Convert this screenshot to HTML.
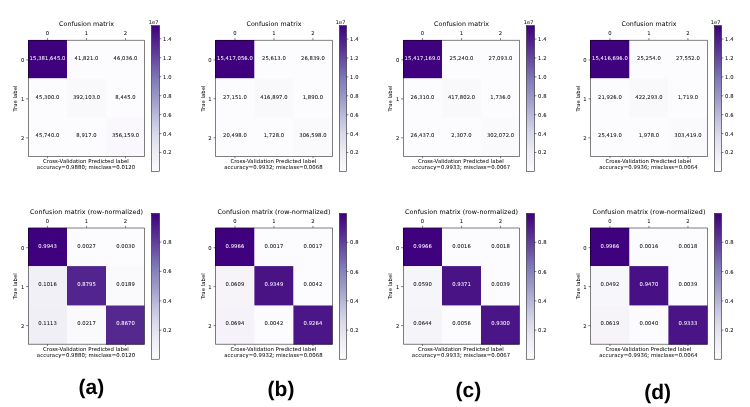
<!DOCTYPE html>
<html><head><meta charset="utf-8"><title>Confusion matrices</title>
<style>html,body{margin:0;padding:0;background:#fff}svg{display:block;will-change:transform;opacity:.999}text{text-rendering:geometricPrecision;stroke:#000;stroke-width:2px;font-family:"DejaVu Sans","Liberation Sans",sans-serif}text.w{stroke:#fff}text.lab{stroke:none;font-family:"Liberation Sans",sans-serif;font-weight:bold}</style>
</head><body>
<svg width="750" height="407" viewBox="0 0 750 407">
<defs><linearGradient id="pg" x1="0" y1="1" x2="0" y2="0">
<stop offset="0.0000" stop-color="#fcfbfd"/>
<stop offset="0.1250" stop-color="#efedf5"/>
<stop offset="0.2500" stop-color="#dadaeb"/>
<stop offset="0.3750" stop-color="#bcbddc"/>
<stop offset="0.5000" stop-color="#9e9ac8"/>
<stop offset="0.6250" stop-color="#807dba"/>
<stop offset="0.7500" stop-color="#6a51a3"/>
<stop offset="0.8750" stop-color="#54278f"/>
<stop offset="1.0000" stop-color="#3f007d"/>
</linearGradient></defs>
<rect width="750" height="407" fill="#fff"/>
<rect x="28.00" y="40.00" width="39.29" height="38.60" fill="#3f007d"/>
<rect x="66.99" y="40.00" width="39.30" height="38.60" fill="#fcfbfd"/>
<rect x="105.99" y="40.00" width="38.51" height="38.60" fill="#fcfbfd"/>
<rect x="28.00" y="78.30" width="39.29" height="39.70" fill="#fcfbfd"/>
<rect x="66.99" y="78.30" width="39.30" height="39.70" fill="#f9f8fb"/>
<rect x="105.99" y="78.30" width="38.51" height="39.70" fill="#fcfbfd"/>
<rect x="28.00" y="117.70" width="39.29" height="39.10" fill="#fcfbfd"/>
<rect x="66.99" y="117.70" width="39.30" height="39.10" fill="#fcfbfd"/>
<rect x="105.99" y="117.70" width="38.51" height="39.10" fill="#faf8fc"/>
<path d="M28.50 40.35H144.50V156.50H28.50Z" fill="none" stroke="#000" stroke-width="0.5"/>
<line x1="47.54" y1="156.50" x2="47.54" y2="158.20" stroke="#000" stroke-width="0.5"/>
<line x1="125.54" y1="156.50" x2="125.54" y2="158.20" stroke="#000" stroke-width="0.5"/>
<text transform="translate(47.54,59.90) scale(.01)" font-size="537" text-anchor="middle" fill="#fff" class="w">15,381,645.0</text>
<text transform="translate(86.54,59.90) scale(.01)" font-size="537" text-anchor="middle" fill="#000">41,821.0</text>
<text transform="translate(125.54,59.90) scale(.01)" font-size="537" text-anchor="middle" fill="#000">46,036.0</text>
<text transform="translate(47.54,98.60) scale(.01)" font-size="537" text-anchor="middle" fill="#000">45,300.0</text>
<text transform="translate(86.54,98.60) scale(.01)" font-size="537" text-anchor="middle" fill="#000">392,103.0</text>
<text transform="translate(125.54,98.60) scale(.01)" font-size="537" text-anchor="middle" fill="#000">8,445.0</text>
<text transform="translate(47.54,137.40) scale(.01)" font-size="537" text-anchor="middle" fill="#000">45,740.0</text>
<text transform="translate(86.54,137.40) scale(.01)" font-size="537" text-anchor="middle" fill="#000">8,917.0</text>
<text transform="translate(125.54,137.40) scale(.01)" font-size="537" text-anchor="middle" fill="#000">356,159.0</text>
<line x1="47.54" y1="38.10" x2="47.54" y2="40.00" stroke="#000" stroke-width="0.5"/>
<line x1="26.14" y1="59.90" x2="28.04" y2="59.90" stroke="#000" stroke-width="0.5"/>
<text transform="translate(47.54,34.80) scale(.01)" font-size="537" text-anchor="middle" fill="#000">0</text>
<text transform="translate(24.34,61.85) scale(.01)" font-size="537" text-anchor="end" fill="#000">0</text>
<line x1="86.54" y1="38.10" x2="86.54" y2="40.00" stroke="#000" stroke-width="0.5"/>
<line x1="26.14" y1="98.80" x2="28.04" y2="98.80" stroke="#000" stroke-width="0.5"/>
<text transform="translate(86.54,34.80) scale(.01)" font-size="537" text-anchor="middle" fill="#000">1</text>
<text transform="translate(24.34,100.75) scale(.01)" font-size="537" text-anchor="end" fill="#000">1</text>
<line x1="125.54" y1="38.10" x2="125.54" y2="40.00" stroke="#000" stroke-width="0.5"/>
<line x1="26.14" y1="137.80" x2="28.04" y2="137.80" stroke="#000" stroke-width="0.5"/>
<text transform="translate(125.54,34.80) scale(.01)" font-size="537" text-anchor="middle" fill="#000">2</text>
<text transform="translate(24.34,139.75) scale(.01)" font-size="537" text-anchor="end" fill="#000">2</text>
<text transform="translate(86.54,25.80) scale(.01)" font-size="644" text-anchor="middle" fill="#000">Confusion matrix</text>
<text transform="translate(17.14,98.50) rotate(-90) scale(.01)" font-size="537" text-anchor="middle" fill="#000">True label</text>
<text transform="translate(85.94,163.00) scale(.01)" font-size="546" text-anchor="middle" fill="#000">Cross-Validation Predicted label</text>
<text transform="translate(86.04,169.00) scale(.01)" font-size="544" text-anchor="middle" fill="#000">accuracy=0.9880; misclass=0.0120</text>
<rect x="151.50" y="25.70" width="8.0" height="145.70" fill="url(#pg)" stroke="#000" stroke-width="0.5"/>
<line x1="159.50" y1="152.52" x2="161.40" y2="152.52" stroke="#000" stroke-width="0.5"/>
<text transform="translate(163.10,154.47) scale(.01)" font-size="537" fill="#000">0.2</text>
<line x1="159.50" y1="133.57" x2="161.40" y2="133.57" stroke="#000" stroke-width="0.5"/>
<text transform="translate(163.10,135.52) scale(.01)" font-size="537" fill="#000">0.4</text>
<line x1="159.50" y1="114.61" x2="161.40" y2="114.61" stroke="#000" stroke-width="0.5"/>
<text transform="translate(163.10,116.56) scale(.01)" font-size="537" fill="#000">0.6</text>
<line x1="159.50" y1="95.66" x2="161.40" y2="95.66" stroke="#000" stroke-width="0.5"/>
<text transform="translate(163.10,97.61) scale(.01)" font-size="537" fill="#000">0.8</text>
<line x1="159.50" y1="76.70" x2="161.40" y2="76.70" stroke="#000" stroke-width="0.5"/>
<text transform="translate(163.10,78.65) scale(.01)" font-size="537" fill="#000">1.0</text>
<line x1="159.50" y1="57.75" x2="161.40" y2="57.75" stroke="#000" stroke-width="0.5"/>
<text transform="translate(163.10,59.70) scale(.01)" font-size="537" fill="#000">1.2</text>
<line x1="159.50" y1="38.79" x2="161.40" y2="38.79" stroke="#000" stroke-width="0.5"/>
<text transform="translate(163.10,40.74) scale(.01)" font-size="537" fill="#000">1.4</text>
<text transform="translate(158.50,24.20) scale(.01)" font-size="510" text-anchor="end" fill="#000">1e7</text>
<rect x="215.00" y="40.00" width="39.69" height="38.60" fill="#3f007d"/>
<rect x="254.39" y="40.00" width="39.30" height="38.60" fill="#fcfbfd"/>
<rect x="293.39" y="40.00" width="39.11" height="38.60" fill="#fcfbfd"/>
<rect x="215.00" y="78.30" width="39.69" height="39.70" fill="#fcfbfd"/>
<rect x="254.39" y="78.30" width="39.30" height="39.70" fill="#f9f8fb"/>
<rect x="293.39" y="78.30" width="39.11" height="39.70" fill="#fcfbfd"/>
<rect x="215.00" y="117.70" width="39.69" height="39.10" fill="#fcfbfd"/>
<rect x="254.39" y="117.70" width="39.30" height="39.10" fill="#fcfbfd"/>
<rect x="293.39" y="117.70" width="39.11" height="39.10" fill="#faf9fc"/>
<path d="M215.50 40.35H332.50V156.50H215.50Z" fill="none" stroke="#000" stroke-width="0.5"/>
<line x1="234.94" y1="156.50" x2="234.94" y2="158.20" stroke="#000" stroke-width="0.5"/>
<line x1="312.94" y1="156.50" x2="312.94" y2="158.20" stroke="#000" stroke-width="0.5"/>
<text transform="translate(234.94,59.90) scale(.01)" font-size="537" text-anchor="middle" fill="#fff" class="w">15,417,056.0</text>
<text transform="translate(273.94,59.90) scale(.01)" font-size="537" text-anchor="middle" fill="#000">25,613.0</text>
<text transform="translate(312.94,59.90) scale(.01)" font-size="537" text-anchor="middle" fill="#000">26,839.0</text>
<text transform="translate(234.94,98.60) scale(.01)" font-size="537" text-anchor="middle" fill="#000">27,151.0</text>
<text transform="translate(273.94,98.60) scale(.01)" font-size="537" text-anchor="middle" fill="#000">416,897.0</text>
<text transform="translate(312.94,98.60) scale(.01)" font-size="537" text-anchor="middle" fill="#000">1,890.0</text>
<text transform="translate(234.94,137.40) scale(.01)" font-size="537" text-anchor="middle" fill="#000">20,498.0</text>
<text transform="translate(273.94,137.40) scale(.01)" font-size="537" text-anchor="middle" fill="#000">1,728.0</text>
<text transform="translate(312.94,137.40) scale(.01)" font-size="537" text-anchor="middle" fill="#000">306,598.0</text>
<line x1="234.94" y1="38.10" x2="234.94" y2="40.00" stroke="#000" stroke-width="0.5"/>
<line x1="213.54" y1="59.90" x2="215.44" y2="59.90" stroke="#000" stroke-width="0.5"/>
<text transform="translate(234.94,34.80) scale(.01)" font-size="537" text-anchor="middle" fill="#000">0</text>
<text transform="translate(211.74,61.85) scale(.01)" font-size="537" text-anchor="end" fill="#000">0</text>
<line x1="273.94" y1="38.10" x2="273.94" y2="40.00" stroke="#000" stroke-width="0.5"/>
<line x1="213.54" y1="98.80" x2="215.44" y2="98.80" stroke="#000" stroke-width="0.5"/>
<text transform="translate(273.94,34.80) scale(.01)" font-size="537" text-anchor="middle" fill="#000">1</text>
<text transform="translate(211.74,100.75) scale(.01)" font-size="537" text-anchor="end" fill="#000">1</text>
<line x1="312.94" y1="38.10" x2="312.94" y2="40.00" stroke="#000" stroke-width="0.5"/>
<line x1="213.54" y1="137.80" x2="215.44" y2="137.80" stroke="#000" stroke-width="0.5"/>
<text transform="translate(312.94,34.80) scale(.01)" font-size="537" text-anchor="middle" fill="#000">2</text>
<text transform="translate(211.74,139.75) scale(.01)" font-size="537" text-anchor="end" fill="#000">2</text>
<text transform="translate(273.94,25.80) scale(.01)" font-size="644" text-anchor="middle" fill="#000">Confusion matrix</text>
<text transform="translate(204.54,98.50) rotate(-90) scale(.01)" font-size="537" text-anchor="middle" fill="#000">True label</text>
<text transform="translate(273.34,163.00) scale(.01)" font-size="546" text-anchor="middle" fill="#000">Cross-Validation Predicted label</text>
<text transform="translate(273.44,169.00) scale(.01)" font-size="544" text-anchor="middle" fill="#000">accuracy=0.9932; misclass=0.0068</text>
<rect x="339.50" y="25.70" width="7.0" height="145.70" fill="url(#pg)" stroke="#000" stroke-width="0.5"/>
<line x1="346.50" y1="152.51" x2="348.40" y2="152.51" stroke="#000" stroke-width="0.5"/>
<text transform="translate(350.10,154.46) scale(.01)" font-size="537" fill="#000">0.2</text>
<line x1="346.50" y1="133.61" x2="348.40" y2="133.61" stroke="#000" stroke-width="0.5"/>
<text transform="translate(350.10,135.56) scale(.01)" font-size="537" fill="#000">0.4</text>
<line x1="346.50" y1="114.71" x2="348.40" y2="114.71" stroke="#000" stroke-width="0.5"/>
<text transform="translate(350.10,116.66) scale(.01)" font-size="537" fill="#000">0.6</text>
<line x1="346.50" y1="95.80" x2="348.40" y2="95.80" stroke="#000" stroke-width="0.5"/>
<text transform="translate(350.10,97.75) scale(.01)" font-size="537" fill="#000">0.8</text>
<line x1="346.50" y1="76.90" x2="348.40" y2="76.90" stroke="#000" stroke-width="0.5"/>
<text transform="translate(350.10,78.85) scale(.01)" font-size="537" fill="#000">1.0</text>
<line x1="346.50" y1="58.00" x2="348.40" y2="58.00" stroke="#000" stroke-width="0.5"/>
<text transform="translate(350.10,59.95) scale(.01)" font-size="537" fill="#000">1.2</text>
<line x1="346.50" y1="39.09" x2="348.40" y2="39.09" stroke="#000" stroke-width="0.5"/>
<text transform="translate(350.10,41.04) scale(.01)" font-size="537" fill="#000">1.4</text>
<text transform="translate(345.50,24.20) scale(.01)" font-size="510" text-anchor="end" fill="#000">1e7</text>
<rect x="403.00" y="40.00" width="39.29" height="38.60" fill="#3f007d"/>
<rect x="441.99" y="40.00" width="39.30" height="38.60" fill="#fcfbfd"/>
<rect x="480.99" y="40.00" width="38.51" height="38.60" fill="#fcfbfd"/>
<rect x="403.00" y="78.30" width="39.29" height="39.70" fill="#fcfbfd"/>
<rect x="441.99" y="78.30" width="39.30" height="39.70" fill="#f9f8fb"/>
<rect x="480.99" y="78.30" width="38.51" height="39.70" fill="#fcfbfd"/>
<rect x="403.00" y="117.70" width="39.29" height="39.10" fill="#fcfbfd"/>
<rect x="441.99" y="117.70" width="39.30" height="39.10" fill="#fcfbfd"/>
<rect x="480.99" y="117.70" width="38.51" height="39.10" fill="#faf9fc"/>
<path d="M403.50 40.35H519.50V156.50H403.50Z" fill="none" stroke="#000" stroke-width="0.5"/>
<line x1="422.54" y1="156.50" x2="422.54" y2="158.20" stroke="#000" stroke-width="0.5"/>
<line x1="500.54" y1="156.50" x2="500.54" y2="158.20" stroke="#000" stroke-width="0.5"/>
<text transform="translate(422.54,59.90) scale(.01)" font-size="537" text-anchor="middle" fill="#fff" class="w">15,417,169.0</text>
<text transform="translate(461.54,59.90) scale(.01)" font-size="537" text-anchor="middle" fill="#000">25,240.0</text>
<text transform="translate(500.54,59.90) scale(.01)" font-size="537" text-anchor="middle" fill="#000">27,093.0</text>
<text transform="translate(422.54,98.60) scale(.01)" font-size="537" text-anchor="middle" fill="#000">26,310.0</text>
<text transform="translate(461.54,98.60) scale(.01)" font-size="537" text-anchor="middle" fill="#000">417,802.0</text>
<text transform="translate(500.54,98.60) scale(.01)" font-size="537" text-anchor="middle" fill="#000">1,736.0</text>
<text transform="translate(422.54,137.40) scale(.01)" font-size="537" text-anchor="middle" fill="#000">26,437.0</text>
<text transform="translate(461.54,137.40) scale(.01)" font-size="537" text-anchor="middle" fill="#000">2,307.0</text>
<text transform="translate(500.54,137.40) scale(.01)" font-size="537" text-anchor="middle" fill="#000">302,072.0</text>
<line x1="422.54" y1="38.10" x2="422.54" y2="40.00" stroke="#000" stroke-width="0.5"/>
<line x1="401.14" y1="59.90" x2="403.04" y2="59.90" stroke="#000" stroke-width="0.5"/>
<text transform="translate(422.54,34.80) scale(.01)" font-size="537" text-anchor="middle" fill="#000">0</text>
<text transform="translate(399.34,61.85) scale(.01)" font-size="537" text-anchor="end" fill="#000">0</text>
<line x1="461.54" y1="38.10" x2="461.54" y2="40.00" stroke="#000" stroke-width="0.5"/>
<line x1="401.14" y1="98.80" x2="403.04" y2="98.80" stroke="#000" stroke-width="0.5"/>
<text transform="translate(461.54,34.80) scale(.01)" font-size="537" text-anchor="middle" fill="#000">1</text>
<text transform="translate(399.34,100.75) scale(.01)" font-size="537" text-anchor="end" fill="#000">1</text>
<line x1="500.54" y1="38.10" x2="500.54" y2="40.00" stroke="#000" stroke-width="0.5"/>
<line x1="401.14" y1="137.80" x2="403.04" y2="137.80" stroke="#000" stroke-width="0.5"/>
<text transform="translate(500.54,34.80) scale(.01)" font-size="537" text-anchor="middle" fill="#000">2</text>
<text transform="translate(399.34,139.75) scale(.01)" font-size="537" text-anchor="end" fill="#000">2</text>
<text transform="translate(461.54,25.80) scale(.01)" font-size="644" text-anchor="middle" fill="#000">Confusion matrix</text>
<text transform="translate(392.14,98.50) rotate(-90) scale(.01)" font-size="537" text-anchor="middle" fill="#000">True label</text>
<text transform="translate(460.94,163.00) scale(.01)" font-size="546" text-anchor="middle" fill="#000">Cross-Validation Predicted label</text>
<text transform="translate(461.04,169.00) scale(.01)" font-size="544" text-anchor="middle" fill="#000">accuracy=0.9933; misclass=0.0067</text>
<rect x="526.50" y="25.70" width="8.0" height="145.70" fill="url(#pg)" stroke="#000" stroke-width="0.5"/>
<line x1="534.50" y1="152.51" x2="536.40" y2="152.51" stroke="#000" stroke-width="0.5"/>
<text transform="translate(538.10,154.46) scale(.01)" font-size="537" fill="#000">0.2</text>
<line x1="534.50" y1="133.61" x2="536.40" y2="133.61" stroke="#000" stroke-width="0.5"/>
<text transform="translate(538.10,135.56) scale(.01)" font-size="537" fill="#000">0.4</text>
<line x1="534.50" y1="114.71" x2="536.40" y2="114.71" stroke="#000" stroke-width="0.5"/>
<text transform="translate(538.10,116.66) scale(.01)" font-size="537" fill="#000">0.6</text>
<line x1="534.50" y1="95.80" x2="536.40" y2="95.80" stroke="#000" stroke-width="0.5"/>
<text transform="translate(538.10,97.75) scale(.01)" font-size="537" fill="#000">0.8</text>
<line x1="534.50" y1="76.90" x2="536.40" y2="76.90" stroke="#000" stroke-width="0.5"/>
<text transform="translate(538.10,78.85) scale(.01)" font-size="537" fill="#000">1.0</text>
<line x1="534.50" y1="58.00" x2="536.40" y2="58.00" stroke="#000" stroke-width="0.5"/>
<text transform="translate(538.10,59.95) scale(.01)" font-size="537" fill="#000">1.2</text>
<line x1="534.50" y1="39.09" x2="536.40" y2="39.09" stroke="#000" stroke-width="0.5"/>
<text transform="translate(538.10,41.04) scale(.01)" font-size="537" fill="#000">1.4</text>
<text transform="translate(533.50,24.20) scale(.01)" font-size="510" text-anchor="end" fill="#000">1e7</text>
<rect x="590.00" y="40.00" width="39.69" height="38.60" fill="#3f007d"/>
<rect x="629.39" y="40.00" width="39.30" height="38.60" fill="#fcfbfd"/>
<rect x="668.39" y="40.00" width="39.11" height="38.60" fill="#fcfbfd"/>
<rect x="590.00" y="78.30" width="39.69" height="39.70" fill="#fcfbfd"/>
<rect x="629.39" y="78.30" width="39.30" height="39.70" fill="#f9f8fb"/>
<rect x="668.39" y="78.30" width="39.11" height="39.70" fill="#fcfbfd"/>
<rect x="590.00" y="117.70" width="39.69" height="39.10" fill="#fcfbfd"/>
<rect x="629.39" y="117.70" width="39.30" height="39.10" fill="#fcfbfd"/>
<rect x="668.39" y="117.70" width="39.11" height="39.10" fill="#faf9fc"/>
<path d="M590.50 40.35H707.50V156.50H590.50Z" fill="none" stroke="#000" stroke-width="0.5"/>
<line x1="609.94" y1="156.50" x2="609.94" y2="158.20" stroke="#000" stroke-width="0.5"/>
<line x1="687.94" y1="156.50" x2="687.94" y2="158.20" stroke="#000" stroke-width="0.5"/>
<text transform="translate(609.94,59.90) scale(.01)" font-size="537" text-anchor="middle" fill="#fff" class="w">15,416,696.0</text>
<text transform="translate(648.94,59.90) scale(.01)" font-size="537" text-anchor="middle" fill="#000">25,254.0</text>
<text transform="translate(687.94,59.90) scale(.01)" font-size="537" text-anchor="middle" fill="#000">27,552.0</text>
<text transform="translate(609.94,98.60) scale(.01)" font-size="537" text-anchor="middle" fill="#000">21,926.0</text>
<text transform="translate(648.94,98.60) scale(.01)" font-size="537" text-anchor="middle" fill="#000">422,293.0</text>
<text transform="translate(687.94,98.60) scale(.01)" font-size="537" text-anchor="middle" fill="#000">1,719.0</text>
<text transform="translate(609.94,137.40) scale(.01)" font-size="537" text-anchor="middle" fill="#000">25,419.0</text>
<text transform="translate(648.94,137.40) scale(.01)" font-size="537" text-anchor="middle" fill="#000">1,978.0</text>
<text transform="translate(687.94,137.40) scale(.01)" font-size="537" text-anchor="middle" fill="#000">303,419.0</text>
<line x1="609.94" y1="38.10" x2="609.94" y2="40.00" stroke="#000" stroke-width="0.5"/>
<line x1="588.54" y1="59.90" x2="590.44" y2="59.90" stroke="#000" stroke-width="0.5"/>
<text transform="translate(609.94,34.80) scale(.01)" font-size="537" text-anchor="middle" fill="#000">0</text>
<text transform="translate(586.74,61.85) scale(.01)" font-size="537" text-anchor="end" fill="#000">0</text>
<line x1="648.94" y1="38.10" x2="648.94" y2="40.00" stroke="#000" stroke-width="0.5"/>
<line x1="588.54" y1="98.80" x2="590.44" y2="98.80" stroke="#000" stroke-width="0.5"/>
<text transform="translate(648.94,34.80) scale(.01)" font-size="537" text-anchor="middle" fill="#000">1</text>
<text transform="translate(586.74,100.75) scale(.01)" font-size="537" text-anchor="end" fill="#000">1</text>
<line x1="687.94" y1="38.10" x2="687.94" y2="40.00" stroke="#000" stroke-width="0.5"/>
<line x1="588.54" y1="137.80" x2="590.44" y2="137.80" stroke="#000" stroke-width="0.5"/>
<text transform="translate(687.94,34.80) scale(.01)" font-size="537" text-anchor="middle" fill="#000">2</text>
<text transform="translate(586.74,139.75) scale(.01)" font-size="537" text-anchor="end" fill="#000">2</text>
<text transform="translate(648.94,25.80) scale(.01)" font-size="644" text-anchor="middle" fill="#000">Confusion matrix</text>
<text transform="translate(579.54,98.50) rotate(-90) scale(.01)" font-size="537" text-anchor="middle" fill="#000">True label</text>
<text transform="translate(648.34,163.00) scale(.01)" font-size="546" text-anchor="middle" fill="#000">Cross-Validation Predicted label</text>
<text transform="translate(648.44,169.00) scale(.01)" font-size="544" text-anchor="middle" fill="#000">accuracy=0.9936; misclass=0.0064</text>
<rect x="714.50" y="25.70" width="7.0" height="145.70" fill="url(#pg)" stroke="#000" stroke-width="0.5"/>
<line x1="721.50" y1="152.51" x2="723.40" y2="152.51" stroke="#000" stroke-width="0.5"/>
<text transform="translate(725.10,154.46) scale(.01)" font-size="537" fill="#000">0.2</text>
<line x1="721.50" y1="133.61" x2="723.40" y2="133.61" stroke="#000" stroke-width="0.5"/>
<text transform="translate(725.10,135.56) scale(.01)" font-size="537" fill="#000">0.4</text>
<line x1="721.50" y1="114.71" x2="723.40" y2="114.71" stroke="#000" stroke-width="0.5"/>
<text transform="translate(725.10,116.66) scale(.01)" font-size="537" fill="#000">0.6</text>
<line x1="721.50" y1="95.80" x2="723.40" y2="95.80" stroke="#000" stroke-width="0.5"/>
<text transform="translate(725.10,97.75) scale(.01)" font-size="537" fill="#000">0.8</text>
<line x1="721.50" y1="76.90" x2="723.40" y2="76.90" stroke="#000" stroke-width="0.5"/>
<text transform="translate(725.10,78.85) scale(.01)" font-size="537" fill="#000">1.0</text>
<line x1="721.50" y1="57.99" x2="723.40" y2="57.99" stroke="#000" stroke-width="0.5"/>
<text transform="translate(725.10,59.94) scale(.01)" font-size="537" fill="#000">1.2</text>
<line x1="721.50" y1="39.09" x2="723.40" y2="39.09" stroke="#000" stroke-width="0.5"/>
<text transform="translate(725.10,41.04) scale(.01)" font-size="537" fill="#000">1.4</text>
<text transform="translate(720.50,24.20) scale(.01)" font-size="510" text-anchor="end" fill="#000">1e7</text>
<rect x="28.00" y="227.80" width="39.29" height="38.60" fill="#3f007d"/>
<rect x="66.99" y="227.80" width="39.30" height="38.60" fill="#fcfbfd"/>
<rect x="105.99" y="227.80" width="38.51" height="38.60" fill="#fcfbfd"/>
<rect x="28.00" y="266.10" width="39.29" height="39.70" fill="#f2f0f7"/>
<rect x="66.99" y="266.10" width="39.30" height="39.70" fill="#52248e"/>
<rect x="105.99" y="266.10" width="38.51" height="39.70" fill="#faf9fc"/>
<rect x="28.00" y="305.50" width="39.29" height="39.10" fill="#f1eff6"/>
<rect x="66.99" y="305.50" width="39.30" height="39.10" fill="#faf9fc"/>
<rect x="105.99" y="305.50" width="38.51" height="39.10" fill="#552890"/>
<path d="M28.50 228.00H144.50V344.30H28.50Z" fill="none" stroke="#000" stroke-width="0.5"/>
<line x1="47.54" y1="344.30" x2="47.54" y2="346.00" stroke="#000" stroke-width="0.5"/>
<line x1="125.54" y1="344.30" x2="125.54" y2="346.00" stroke="#000" stroke-width="0.5"/>
<text transform="translate(47.54,247.70) scale(.01)" font-size="537" text-anchor="middle" fill="#fff" class="w">0.9943</text>
<text transform="translate(86.54,247.70) scale(.01)" font-size="537" text-anchor="middle" fill="#000">0.0027</text>
<text transform="translate(125.54,247.70) scale(.01)" font-size="537" text-anchor="middle" fill="#000">0.0030</text>
<text transform="translate(47.54,286.40) scale(.01)" font-size="537" text-anchor="middle" fill="#000">0.1016</text>
<text transform="translate(86.54,286.40) scale(.01)" font-size="537" text-anchor="middle" fill="#fff" class="w">0.8795</text>
<text transform="translate(125.54,286.40) scale(.01)" font-size="537" text-anchor="middle" fill="#000">0.0189</text>
<text transform="translate(47.54,325.20) scale(.01)" font-size="537" text-anchor="middle" fill="#000">0.1113</text>
<text transform="translate(86.54,325.20) scale(.01)" font-size="537" text-anchor="middle" fill="#000">0.0217</text>
<text transform="translate(125.54,325.20) scale(.01)" font-size="537" text-anchor="middle" fill="#fff" class="w">0.8670</text>
<line x1="47.54" y1="225.90" x2="47.54" y2="227.80" stroke="#000" stroke-width="0.5"/>
<line x1="26.14" y1="247.70" x2="28.04" y2="247.70" stroke="#000" stroke-width="0.5"/>
<text transform="translate(47.54,222.60) scale(.01)" font-size="537" text-anchor="middle" fill="#000">0</text>
<text transform="translate(24.34,249.65) scale(.01)" font-size="537" text-anchor="end" fill="#000">0</text>
<line x1="86.54" y1="225.90" x2="86.54" y2="227.80" stroke="#000" stroke-width="0.5"/>
<line x1="26.14" y1="286.60" x2="28.04" y2="286.60" stroke="#000" stroke-width="0.5"/>
<text transform="translate(86.54,222.60) scale(.01)" font-size="537" text-anchor="middle" fill="#000">1</text>
<text transform="translate(24.34,288.55) scale(.01)" font-size="537" text-anchor="end" fill="#000">1</text>
<line x1="125.54" y1="225.90" x2="125.54" y2="227.80" stroke="#000" stroke-width="0.5"/>
<line x1="26.14" y1="325.60" x2="28.04" y2="325.60" stroke="#000" stroke-width="0.5"/>
<text transform="translate(125.54,222.60) scale(.01)" font-size="537" text-anchor="middle" fill="#000">2</text>
<text transform="translate(24.34,327.55) scale(.01)" font-size="537" text-anchor="end" fill="#000">2</text>
<text transform="translate(86.54,213.60) scale(.01)" font-size="650" text-anchor="middle" fill="#000">Confusion matrix (row-normalized)</text>
<text transform="translate(17.14,286.30) rotate(-90) scale(.01)" font-size="537" text-anchor="middle" fill="#000">True label</text>
<text transform="translate(85.94,350.80) scale(.01)" font-size="546" text-anchor="middle" fill="#000">Cross-Validation Predicted label</text>
<text transform="translate(86.04,356.80) scale(.01)" font-size="544" text-anchor="middle" fill="#000">accuracy=0.9880; misclass=0.0120</text>
<rect x="151.50" y="213.50" width="8.0" height="145.70" fill="url(#pg)" stroke="#000" stroke-width="0.5"/>
<line x1="159.50" y1="330.21" x2="161.40" y2="330.21" stroke="#000" stroke-width="0.5"/>
<text transform="translate(163.10,332.16) scale(.01)" font-size="537" fill="#000">0.2</text>
<line x1="159.50" y1="300.82" x2="161.40" y2="300.82" stroke="#000" stroke-width="0.5"/>
<text transform="translate(163.10,302.77) scale(.01)" font-size="537" fill="#000">0.4</text>
<line x1="159.50" y1="271.44" x2="161.40" y2="271.44" stroke="#000" stroke-width="0.5"/>
<text transform="translate(163.10,273.39) scale(.01)" font-size="537" fill="#000">0.6</text>
<line x1="159.50" y1="242.05" x2="161.40" y2="242.05" stroke="#000" stroke-width="0.5"/>
<text transform="translate(163.10,244.00) scale(.01)" font-size="537" fill="#000">0.8</text>
<rect x="215.00" y="227.80" width="39.69" height="38.60" fill="#3f007d"/>
<rect x="254.39" y="227.80" width="39.30" height="38.60" fill="#fcfbfd"/>
<rect x="293.39" y="227.80" width="39.11" height="38.60" fill="#fcfbfd"/>
<rect x="215.00" y="266.10" width="39.69" height="39.70" fill="#f6f4f9"/>
<rect x="254.39" y="266.10" width="39.30" height="39.70" fill="#491386"/>
<rect x="293.39" y="266.10" width="39.11" height="39.70" fill="#fcfbfd"/>
<rect x="215.00" y="305.50" width="39.69" height="39.10" fill="#f5f3f9"/>
<rect x="254.39" y="305.50" width="39.30" height="39.10" fill="#fcfbfd"/>
<rect x="293.39" y="305.50" width="39.11" height="39.10" fill="#4b1687"/>
<path d="M215.50 228.00H332.50V344.30H215.50Z" fill="none" stroke="#000" stroke-width="0.5"/>
<line x1="234.94" y1="344.30" x2="234.94" y2="346.00" stroke="#000" stroke-width="0.5"/>
<line x1="312.94" y1="344.30" x2="312.94" y2="346.00" stroke="#000" stroke-width="0.5"/>
<text transform="translate(234.94,247.70) scale(.01)" font-size="537" text-anchor="middle" fill="#fff" class="w">0.9966</text>
<text transform="translate(273.94,247.70) scale(.01)" font-size="537" text-anchor="middle" fill="#000">0.0017</text>
<text transform="translate(312.94,247.70) scale(.01)" font-size="537" text-anchor="middle" fill="#000">0.0017</text>
<text transform="translate(234.94,286.40) scale(.01)" font-size="537" text-anchor="middle" fill="#000">0.0609</text>
<text transform="translate(273.94,286.40) scale(.01)" font-size="537" text-anchor="middle" fill="#fff" class="w">0.9349</text>
<text transform="translate(312.94,286.40) scale(.01)" font-size="537" text-anchor="middle" fill="#000">0.0042</text>
<text transform="translate(234.94,325.20) scale(.01)" font-size="537" text-anchor="middle" fill="#000">0.0694</text>
<text transform="translate(273.94,325.20) scale(.01)" font-size="537" text-anchor="middle" fill="#000">0.0042</text>
<text transform="translate(312.94,325.20) scale(.01)" font-size="537" text-anchor="middle" fill="#fff" class="w">0.9264</text>
<line x1="234.94" y1="225.90" x2="234.94" y2="227.80" stroke="#000" stroke-width="0.5"/>
<line x1="213.54" y1="247.70" x2="215.44" y2="247.70" stroke="#000" stroke-width="0.5"/>
<text transform="translate(234.94,222.60) scale(.01)" font-size="537" text-anchor="middle" fill="#000">0</text>
<text transform="translate(211.74,249.65) scale(.01)" font-size="537" text-anchor="end" fill="#000">0</text>
<line x1="273.94" y1="225.90" x2="273.94" y2="227.80" stroke="#000" stroke-width="0.5"/>
<line x1="213.54" y1="286.60" x2="215.44" y2="286.60" stroke="#000" stroke-width="0.5"/>
<text transform="translate(273.94,222.60) scale(.01)" font-size="537" text-anchor="middle" fill="#000">1</text>
<text transform="translate(211.74,288.55) scale(.01)" font-size="537" text-anchor="end" fill="#000">1</text>
<line x1="312.94" y1="225.90" x2="312.94" y2="227.80" stroke="#000" stroke-width="0.5"/>
<line x1="213.54" y1="325.60" x2="215.44" y2="325.60" stroke="#000" stroke-width="0.5"/>
<text transform="translate(312.94,222.60) scale(.01)" font-size="537" text-anchor="middle" fill="#000">2</text>
<text transform="translate(211.74,327.55) scale(.01)" font-size="537" text-anchor="end" fill="#000">2</text>
<text transform="translate(273.94,213.60) scale(.01)" font-size="650" text-anchor="middle" fill="#000">Confusion matrix (row-normalized)</text>
<text transform="translate(204.54,286.30) rotate(-90) scale(.01)" font-size="537" text-anchor="middle" fill="#000">True label</text>
<text transform="translate(273.34,350.80) scale(.01)" font-size="546" text-anchor="middle" fill="#000">Cross-Validation Predicted label</text>
<text transform="translate(273.44,356.80) scale(.01)" font-size="544" text-anchor="middle" fill="#000">accuracy=0.9932; misclass=0.0068</text>
<rect x="339.50" y="213.50" width="7.0" height="145.70" fill="url(#pg)" stroke="#000" stroke-width="0.5"/>
<line x1="346.50" y1="330.16" x2="348.40" y2="330.16" stroke="#000" stroke-width="0.5"/>
<text transform="translate(350.10,332.11) scale(.01)" font-size="537" fill="#000">0.2</text>
<line x1="346.50" y1="300.87" x2="348.40" y2="300.87" stroke="#000" stroke-width="0.5"/>
<text transform="translate(350.10,302.82) scale(.01)" font-size="537" fill="#000">0.4</text>
<line x1="346.50" y1="271.58" x2="348.40" y2="271.58" stroke="#000" stroke-width="0.5"/>
<text transform="translate(350.10,273.53) scale(.01)" font-size="537" fill="#000">0.6</text>
<line x1="346.50" y1="242.29" x2="348.40" y2="242.29" stroke="#000" stroke-width="0.5"/>
<text transform="translate(350.10,244.24) scale(.01)" font-size="537" fill="#000">0.8</text>
<rect x="403.00" y="227.80" width="39.29" height="38.60" fill="#3f007d"/>
<rect x="441.99" y="227.80" width="39.30" height="38.60" fill="#fcfbfd"/>
<rect x="480.99" y="227.80" width="38.51" height="38.60" fill="#fcfbfd"/>
<rect x="403.00" y="266.10" width="39.29" height="39.70" fill="#f6f5f9"/>
<rect x="441.99" y="266.10" width="39.30" height="39.70" fill="#491386"/>
<rect x="480.99" y="266.10" width="38.51" height="39.70" fill="#fcfbfd"/>
<rect x="403.00" y="305.50" width="39.29" height="39.10" fill="#f5f4f9"/>
<rect x="441.99" y="305.50" width="39.30" height="39.10" fill="#fcfbfd"/>
<rect x="480.99" y="305.50" width="38.51" height="39.10" fill="#4a1587"/>
<path d="M403.50 228.00H519.50V344.30H403.50Z" fill="none" stroke="#000" stroke-width="0.5"/>
<line x1="422.54" y1="344.30" x2="422.54" y2="346.00" stroke="#000" stroke-width="0.5"/>
<line x1="500.54" y1="344.30" x2="500.54" y2="346.00" stroke="#000" stroke-width="0.5"/>
<text transform="translate(422.54,247.70) scale(.01)" font-size="537" text-anchor="middle" fill="#fff" class="w">0.9966</text>
<text transform="translate(461.54,247.70) scale(.01)" font-size="537" text-anchor="middle" fill="#000">0.0016</text>
<text transform="translate(500.54,247.70) scale(.01)" font-size="537" text-anchor="middle" fill="#000">0.0018</text>
<text transform="translate(422.54,286.40) scale(.01)" font-size="537" text-anchor="middle" fill="#000">0.0590</text>
<text transform="translate(461.54,286.40) scale(.01)" font-size="537" text-anchor="middle" fill="#fff" class="w">0.9371</text>
<text transform="translate(500.54,286.40) scale(.01)" font-size="537" text-anchor="middle" fill="#000">0.0039</text>
<text transform="translate(422.54,325.20) scale(.01)" font-size="537" text-anchor="middle" fill="#000">0.0644</text>
<text transform="translate(461.54,325.20) scale(.01)" font-size="537" text-anchor="middle" fill="#000">0.0056</text>
<text transform="translate(500.54,325.20) scale(.01)" font-size="537" text-anchor="middle" fill="#fff" class="w">0.9300</text>
<line x1="422.54" y1="225.90" x2="422.54" y2="227.80" stroke="#000" stroke-width="0.5"/>
<line x1="401.14" y1="247.70" x2="403.04" y2="247.70" stroke="#000" stroke-width="0.5"/>
<text transform="translate(422.54,222.60) scale(.01)" font-size="537" text-anchor="middle" fill="#000">0</text>
<text transform="translate(399.34,249.65) scale(.01)" font-size="537" text-anchor="end" fill="#000">0</text>
<line x1="461.54" y1="225.90" x2="461.54" y2="227.80" stroke="#000" stroke-width="0.5"/>
<line x1="401.14" y1="286.60" x2="403.04" y2="286.60" stroke="#000" stroke-width="0.5"/>
<text transform="translate(461.54,222.60) scale(.01)" font-size="537" text-anchor="middle" fill="#000">1</text>
<text transform="translate(399.34,288.55) scale(.01)" font-size="537" text-anchor="end" fill="#000">1</text>
<line x1="500.54" y1="225.90" x2="500.54" y2="227.80" stroke="#000" stroke-width="0.5"/>
<line x1="401.14" y1="325.60" x2="403.04" y2="325.60" stroke="#000" stroke-width="0.5"/>
<text transform="translate(500.54,222.60) scale(.01)" font-size="537" text-anchor="middle" fill="#000">2</text>
<text transform="translate(399.34,327.55) scale(.01)" font-size="537" text-anchor="end" fill="#000">2</text>
<text transform="translate(461.54,213.60) scale(.01)" font-size="650" text-anchor="middle" fill="#000">Confusion matrix (row-normalized)</text>
<text transform="translate(392.14,286.30) rotate(-90) scale(.01)" font-size="537" text-anchor="middle" fill="#000">True label</text>
<text transform="translate(460.94,350.80) scale(.01)" font-size="546" text-anchor="middle" fill="#000">Cross-Validation Predicted label</text>
<text transform="translate(461.04,356.80) scale(.01)" font-size="544" text-anchor="middle" fill="#000">accuracy=0.9933; misclass=0.0067</text>
<rect x="526.50" y="213.50" width="8.0" height="145.70" fill="url(#pg)" stroke="#000" stroke-width="0.5"/>
<line x1="534.50" y1="330.15" x2="536.40" y2="330.15" stroke="#000" stroke-width="0.5"/>
<text transform="translate(538.10,332.10) scale(.01)" font-size="537" fill="#000">0.2</text>
<line x1="534.50" y1="300.86" x2="536.40" y2="300.86" stroke="#000" stroke-width="0.5"/>
<text transform="translate(538.10,302.81) scale(.01)" font-size="537" fill="#000">0.4</text>
<line x1="534.50" y1="271.57" x2="536.40" y2="271.57" stroke="#000" stroke-width="0.5"/>
<text transform="translate(538.10,273.52) scale(.01)" font-size="537" fill="#000">0.6</text>
<line x1="534.50" y1="242.29" x2="536.40" y2="242.29" stroke="#000" stroke-width="0.5"/>
<text transform="translate(538.10,244.24) scale(.01)" font-size="537" fill="#000">0.8</text>
<rect x="590.00" y="227.80" width="39.69" height="38.60" fill="#3f007d"/>
<rect x="629.39" y="227.80" width="39.30" height="38.60" fill="#fcfbfd"/>
<rect x="668.39" y="227.80" width="39.11" height="38.60" fill="#fcfbfd"/>
<rect x="590.00" y="266.10" width="39.69" height="39.70" fill="#f7f6fa"/>
<rect x="629.39" y="266.10" width="39.30" height="39.70" fill="#471084"/>
<rect x="668.39" y="266.10" width="39.11" height="39.70" fill="#fcfbfd"/>
<rect x="590.00" y="305.50" width="39.69" height="39.10" fill="#f6f4f9"/>
<rect x="629.39" y="305.50" width="39.30" height="39.10" fill="#fcfbfd"/>
<rect x="668.39" y="305.50" width="39.11" height="39.10" fill="#4a1486"/>
<path d="M590.50 228.00H707.50V344.30H590.50Z" fill="none" stroke="#000" stroke-width="0.5"/>
<line x1="609.94" y1="344.30" x2="609.94" y2="346.00" stroke="#000" stroke-width="0.5"/>
<line x1="687.94" y1="344.30" x2="687.94" y2="346.00" stroke="#000" stroke-width="0.5"/>
<text transform="translate(609.94,247.70) scale(.01)" font-size="537" text-anchor="middle" fill="#fff" class="w">0.9966</text>
<text transform="translate(648.94,247.70) scale(.01)" font-size="537" text-anchor="middle" fill="#000">0.0016</text>
<text transform="translate(687.94,247.70) scale(.01)" font-size="537" text-anchor="middle" fill="#000">0.0018</text>
<text transform="translate(609.94,286.40) scale(.01)" font-size="537" text-anchor="middle" fill="#000">0.0492</text>
<text transform="translate(648.94,286.40) scale(.01)" font-size="537" text-anchor="middle" fill="#fff" class="w">0.9470</text>
<text transform="translate(687.94,286.40) scale(.01)" font-size="537" text-anchor="middle" fill="#000">0.0039</text>
<text transform="translate(609.94,325.20) scale(.01)" font-size="537" text-anchor="middle" fill="#000">0.0619</text>
<text transform="translate(648.94,325.20) scale(.01)" font-size="537" text-anchor="middle" fill="#000">0.0040</text>
<text transform="translate(687.94,325.20) scale(.01)" font-size="537" text-anchor="middle" fill="#fff" class="w">0.9333</text>
<line x1="609.94" y1="225.90" x2="609.94" y2="227.80" stroke="#000" stroke-width="0.5"/>
<line x1="588.54" y1="247.70" x2="590.44" y2="247.70" stroke="#000" stroke-width="0.5"/>
<text transform="translate(609.94,222.60) scale(.01)" font-size="537" text-anchor="middle" fill="#000">0</text>
<text transform="translate(586.74,249.65) scale(.01)" font-size="537" text-anchor="end" fill="#000">0</text>
<line x1="648.94" y1="225.90" x2="648.94" y2="227.80" stroke="#000" stroke-width="0.5"/>
<line x1="588.54" y1="286.60" x2="590.44" y2="286.60" stroke="#000" stroke-width="0.5"/>
<text transform="translate(648.94,222.60) scale(.01)" font-size="537" text-anchor="middle" fill="#000">1</text>
<text transform="translate(586.74,288.55) scale(.01)" font-size="537" text-anchor="end" fill="#000">1</text>
<line x1="687.94" y1="225.90" x2="687.94" y2="227.80" stroke="#000" stroke-width="0.5"/>
<line x1="588.54" y1="325.60" x2="590.44" y2="325.60" stroke="#000" stroke-width="0.5"/>
<text transform="translate(687.94,222.60) scale(.01)" font-size="537" text-anchor="middle" fill="#000">2</text>
<text transform="translate(586.74,327.55) scale(.01)" font-size="537" text-anchor="end" fill="#000">2</text>
<text transform="translate(648.94,213.60) scale(.01)" font-size="650" text-anchor="middle" fill="#000">Confusion matrix (row-normalized)</text>
<text transform="translate(579.54,286.30) rotate(-90) scale(.01)" font-size="537" text-anchor="middle" fill="#000">True label</text>
<text transform="translate(648.34,350.80) scale(.01)" font-size="546" text-anchor="middle" fill="#000">Cross-Validation Predicted label</text>
<text transform="translate(648.44,356.80) scale(.01)" font-size="544" text-anchor="middle" fill="#000">accuracy=0.9936; misclass=0.0064</text>
<rect x="714.50" y="213.50" width="7.0" height="145.70" fill="url(#pg)" stroke="#000" stroke-width="0.5"/>
<line x1="721.50" y1="330.15" x2="723.40" y2="330.15" stroke="#000" stroke-width="0.5"/>
<text transform="translate(725.10,332.10) scale(.01)" font-size="537" fill="#000">0.2</text>
<line x1="721.50" y1="300.86" x2="723.40" y2="300.86" stroke="#000" stroke-width="0.5"/>
<text transform="translate(725.10,302.81) scale(.01)" font-size="537" fill="#000">0.4</text>
<line x1="721.50" y1="271.57" x2="723.40" y2="271.57" stroke="#000" stroke-width="0.5"/>
<text transform="translate(725.10,273.52) scale(.01)" font-size="537" fill="#000">0.6</text>
<line x1="721.50" y1="242.29" x2="723.40" y2="242.29" stroke="#000" stroke-width="0.5"/>
<text transform="translate(725.10,244.24) scale(.01)" font-size="537" fill="#000">0.8</text>
<text class="lab" x="91.3" y="394.0" font-size="21" text-anchor="middle" fill="#000">(a)</text>
<text class="lab" x="281.0" y="396.0" font-size="21" text-anchor="middle" fill="#000">(b)</text>
<text class="lab" x="468.4" y="397.2" font-size="21" text-anchor="middle" fill="#000">(c)</text>
<text class="lab" x="657.7" y="398.75" font-size="21" text-anchor="middle" fill="#000">(d)</text>
</svg></body></html>
